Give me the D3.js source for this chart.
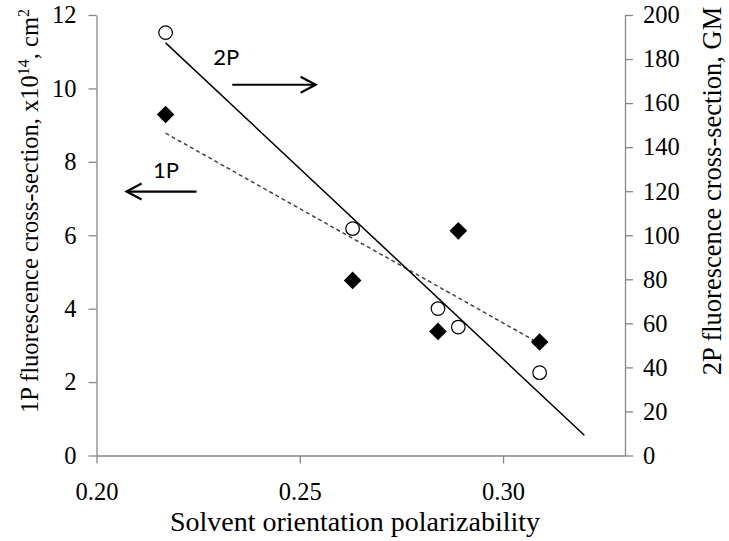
<!DOCTYPE html>
<html><head><meta charset="utf-8">
<script src="https://cdn.jsdelivr.net/npm/d3@7"></script>
<style>body{margin:0;background:#fff;}svg{display:block;}</style>
</head><body>
<svg id="c" width="729" height="541"></svg>
<script>
// Data
const polarizability = [0.217, 0.263, 0.284, 0.289, 0.309];
const onePhoton = [9.29, 4.77, 3.38, 6.12, 3.09];     // left axis, x10^14 cm^2
const twoPhoton = [192, 103, 66.7, 58.3, 37.6];        // right axis, GM
const xTicks = [0.20, 0.25, 0.30];
const yLeftTicks = [0, 2, 4, 6, 8, 10, 12];
const yRightTicks = [0, 20, 40, 60, 80, 100, 120, 140, 160, 180, 200];
const twoPForecast = 0.011;

const svg = d3.select("#c");
const m = {l: 96.5, r: 625, t: 15, b: 455.5};
const x = d3.scaleLinear().domain([0.20, 0.33]).range([m.l, m.r]);
const yL = d3.scaleLinear().domain([0, 12]).range([m.b, m.t]);
const yR = d3.scaleLinear().domain([0, 200]).range([m.b, m.t]);
const axisColor = "#878787";
const serif = "'Liberation Serif','Times New Roman',serif";

function styleAxis(g){
  g.select(".domain").attr("stroke", axisColor).attr("stroke-width", 1.3);
  g.selectAll(".tick line").attr("stroke", axisColor).attr("stroke-width", 1.3);
  g.selectAll(".tick text").attr("fill", "#000").style("font-family", serif).style("font-size", "24.5px");
}

const gx = svg.append("g").attr("transform", `translate(0,${m.b})`)
  .call(d3.axisBottom(x).tickValues(xTicks).tickFormat(d3.format(".2f")).tickSize(8).tickSizeOuter(0).tickPadding(19));
styleAxis(gx);
const gl = svg.append("g").attr("transform", `translate(${m.l},0)`)
  .call(d3.axisLeft(yL).tickValues(yLeftTicks).tickFormat(d3.format("d")).tickSize(8).tickSizeOuter(0).tickPadding(12));
styleAxis(gl);
const gr = svg.append("g").attr("transform", `translate(${m.r},0)`)
  .call(d3.axisRight(yR).tickValues(yRightTicks).tickFormat(d3.format("d")).tickSize(8).tickSizeOuter(0).tickPadding(10));
styleAxis(gr);

// Linear regression
function fit(xs, ys){
  const n = xs.length, mx = d3.mean(xs), my = d3.mean(ys);
  let sxy = 0, sxx = 0;
  for (let i = 0; i < n; i++){ sxy += (xs[i]-mx)*(ys[i]-my); sxx += (xs[i]-mx)**2; }
  const b = sxy/sxx; return v => my + b*(v-mx);
}
const f1 = fit(polarizability, onePhoton);
const f2 = fit(polarizability, twoPhoton);
const xmin = d3.min(polarizability), xmax = d3.max(polarizability);

svg.append("line")
  .attr("x1", x(xmin)).attr("y1", yL(f1(xmin)))
  .attr("x2", x(xmax)).attr("y2", yL(f1(xmax)))
  .attr("stroke", "#444").attr("stroke-width", 1.5).attr("stroke-dasharray", "4,3");
svg.append("line")
  .attr("x1", x(xmin)).attr("y1", yR(f2(xmin)))
  .attr("x2", x(xmax + twoPForecast)).attr("y2", yR(f2(xmax + twoPForecast)))
  .attr("stroke", "#000").attr("stroke-width", 1.5);

// 1P diamonds
svg.append("g").selectAll("path").data(polarizability).join("path")
  .attr("d", d3.symbol().type(d3.symbolSquare).size(155))
  .attr("transform", (d, i) => `translate(${x(d)},${yL(onePhoton[i])}) rotate(45)`)
  .attr("fill", "#000");
// 2P circles
svg.append("g").selectAll("circle").data(polarizability).join("circle")
  .attr("cx", d => x(d)).attr("cy", (d, i) => yR(twoPhoton[i]))
  .attr("r", 6.8).attr("fill", "#fff").attr("stroke", "#000").attr("stroke-width", 1.2);

// Annotations (placed in data units)
const sans = "Lato,'Open Sans',sans-serif";
svg.append("text").attr("x", x(0.2287)).attr("y", yL(10.64))
  .style("font-family", sans).style("font-size", "22px").text("2P");
svg.append("text").attr("x", x(0.2139)).attr("y", yL(7.57))
  .style("font-family", sans).style("font-size", "22px").text("1P");
function arrow(x1, x2, yv){
  const X1 = x(x1), X2 = x(x2), Y = yL(yv);
  const dir = Math.sign(X2 - X1);
  svg.append("line").attr("x1", X1).attr("y1", Y).attr("x2", X2).attr("y2", Y)
    .attr("stroke", "#000").attr("stroke-width", 2.2);
  svg.append("path").attr("d", `M${X2 - dir*15},${Y-8}L${X2},${Y}L${X2 - dir*15},${Y+8}`)
    .attr("fill", "none").attr("stroke", "#000").attr("stroke-width", 2.2);
}
arrow(0.2334, 0.2539, 10.1);
arrow(0.2246, 0.2074, 7.19);

// Axis titles
svg.append("text").attr("x", 355).attr("y", 531).attr("text-anchor", "middle")
  .style("font-family", serif).style("font-size", "28px").text("Solvent orientation polarizability");

const lt = svg.append("text").attr("transform", `translate(38,211) rotate(-90)`).attr("text-anchor", "middle")
  .style("font-family", serif).style("font-size", "24.5px");
lt.append("tspan").text("1P fluorescence cross-section, x10");
lt.append("tspan").attr("dy", -9).style("font-size", "16px").text("14");
lt.append("tspan").attr("dy", 9).text(", cm");
lt.append("tspan").attr("dy", -9).style("font-size", "16px").text("2");

svg.append("text").attr("transform", `translate(721,191) rotate(-90)`).attr("text-anchor", "middle")
  .style("font-family", serif).style("font-size", "26.5px").text("2P fluorescence cross-section, GM");
</script>
</body></html>
